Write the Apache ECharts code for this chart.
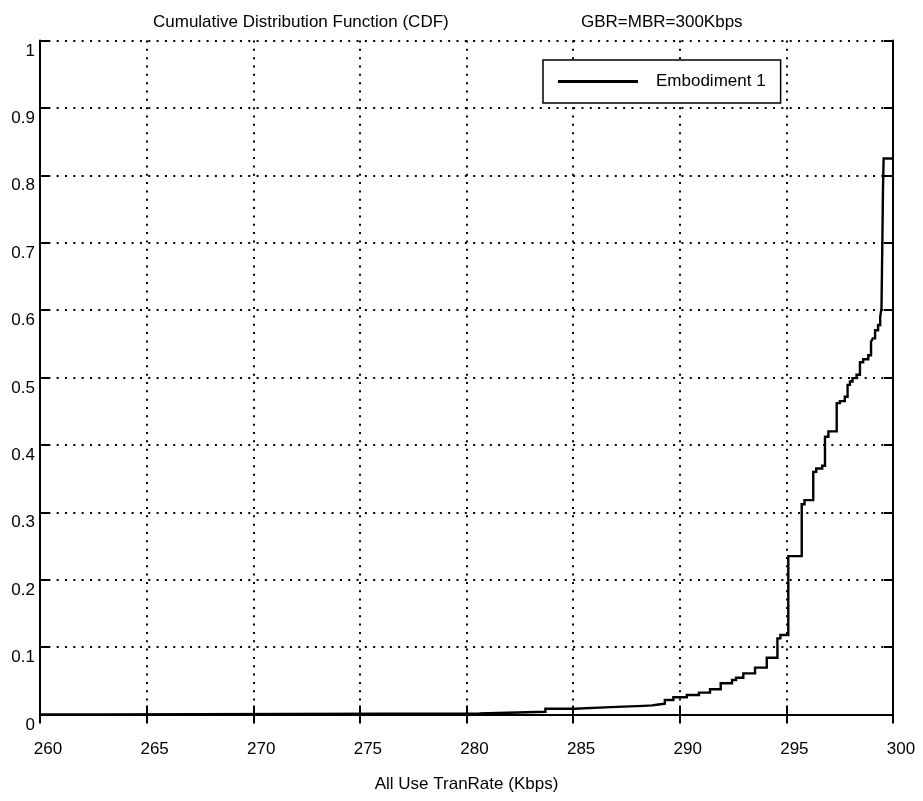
<!DOCTYPE html>
<html>
<head>
<meta charset="utf-8">
<script src="https://cdn.jsdelivr.net/npm/echarts@6/dist/echarts.min.js"></script>
<style>html,body{margin:0;padding:0;background:#fff;}#c{width:923px;height:801px;}</style>
</head>
<body>
<div id="c"></div>
<script>
// Breakpoints of the empirical CDF: rate (Kbps) where the CDF jumps, and the CDF value after the jump
var rateKbps = [262.95, 280.6, 283.7, 285.05, 286.76, 288.3, 288.7, 289.0, 289.3, 289.7, 290.33, 290.9, 291.42, 291.92,
  292.45, 292.64, 292.98, 293.53, 294.08, 294.58, 294.72, 295.09, 295.72, 295.85, 296.26, 296.4, 296.68, 296.81,
  296.97, 297.36, 297.51, 297.74, 297.87, 297.98, 298.1, 298.29, 298.45, 298.6, 298.84, 298.97, 299.05, 299.16,
  299.3, 299.4, 299.46, 299.5, 299.53, 299.56, 300];
var cdfValue = [0.0015, 0.0040, 0.0085, 0.011, 0.0128, 0.0135, 0.0148, 0.016, 0.0215, 0.0255, 0.029, 0.0324, 0.0374, 0.0463,
  0.0512, 0.0546, 0.061, 0.0695, 0.0843, 0.113, 0.118, 0.235, 0.312, 0.318, 0.360, 0.365, 0.369, 0.412,
  0.420, 0.462, 0.465, 0.4715, 0.489, 0.494, 0.499, 0.504, 0.5226, 0.527, 0.533, 0.553, 0.558, 0.570,
  0.578, 0.590, 0.603, 0.70, 0.78, 0.825, 0.825];
var xTicks = [260, 265, 270, 275, 280, 285, 290, 295, 300];
var yTicks = [0, 0.1, 0.2, 0.3, 0.4, 0.5, 0.6, 0.7, 0.8, 0.9, 1];
var seriesName = 'Embodiment 1';
var titleLeft = 'Cumulative Distribution Function (CDF)';
var titleRight = 'GBR=MBR=300Kbps';
var xName = 'All Use TranRate (Kbps)';

// staircase points from the breakpoints
var pts = [[260, 0]];
for (var i = 0; i < rateKbps.length; i++) {
  var prev = i === 0 ? 0 : cdfValue[i - 1];
  pts.push([rateKbps[i], prev]);
  pts.push([rateKbps[i], cdfValue[i]]);
}

var FONT = 'Liberation Sans, Arial, sans-serif';
var dotted = { color: '#000', width: 2, type: [2, 6.33] };
var chart = echarts.init(document.getElementById('c'), null, { renderer: 'canvas' });
chart.setOption({
  animation: false,
  backgroundColor: '#fff',
  textStyle: { fontFamily: FONT, color: '#000' },
  title: [
    { text: titleLeft, left: 153, top: 14, padding: 0, textStyle: { fontFamily: FONT, fontSize: 17, fontWeight: 'normal', color: '#000' } },
    { text: titleRight, left: 581, top: 14, padding: 0, textStyle: { fontFamily: FONT, fontSize: 17, fontWeight: 'normal', color: '#000' } }
  ],
  legend: {
    data: [seriesName],
    left: 543, top: 60,
    orient: 'horizontal',
    padding: [13, 15, 13, 15],
    borderColor: '#000', borderWidth: 1.5,
    backgroundColor: '#fff',
    icon: 'rect', itemWidth: 80, itemHeight: 3,
    textStyle: { fontFamily: FONT, fontSize: 17, color: '#000', padding: [0, 0, 0, 13] },
    selectedMode: false
  },
  grid: { left: 40, right: 30, top: 40.5, bottom: 86.5, containLabel: false },
  xAxis: [
    {
      type: 'value', min: xTicks[0], max: xTicks[xTicks.length - 1], interval: 5,
      position: 'bottom',
      name: xName, nameLocation: 'middle', nameGap: 61,
      nameTextStyle: { fontFamily: FONT, fontSize: 17, color: '#000' },
      axisLine: { show: true, lineStyle: { color: '#000', width: 2 } },
      axisTick: { show: true, inside: true, length: 9, lineStyle: { color: '#000', width: 2 } },
      axisLabel: { show: true, margin: 26, fontFamily: FONT, fontSize: 17, color: '#000', padding: [0, 0, 0, 16] },
      splitLine: { show: true, lineStyle: dotted }
    },
    {
      type: 'value', min: xTicks[0], max: xTicks[xTicks.length - 1], interval: 5,
      position: 'top',
      axisLine: { show: true, lineStyle: { color: '#000', width: 2 } },
      axisTick: { show: true, inside: true, length: 9, lineStyle: { color: '#000', width: 2 } },
      axisLabel: { show: false },
      splitLine: { show: false }
    }
  ],
  yAxis: [
    {
      type: 'value', min: yTicks[0], max: yTicks[yTicks.length - 1], interval: 0.1,
      position: 'left',
      axisLine: { show: true, lineStyle: { color: '#000', width: 2 } },
      axisTick: { show: true, inside: true, length: 9, lineStyle: { color: '#000', width: 2 } },
      axisLabel: { show: true, margin: 5, fontFamily: FONT, fontSize: 17, color: '#000',
        verticalAlign: 'top', lineHeight: 21,
        formatter: function (v) { return String(Math.round(v * 10) / 10); } },
      splitLine: { show: true, lineStyle: dotted }
    },
    {
      type: 'value', min: yTicks[0], max: yTicks[yTicks.length - 1], interval: 0.1,
      position: 'right',
      axisLine: { show: true, lineStyle: { color: '#000', width: 2 } },
      axisTick: { show: true, inside: true, length: 9, lineStyle: { color: '#000', width: 2 } },
      axisLabel: { show: false },
      splitLine: { show: false }
    }
  ],
  series: [{
    name: seriesName,
    type: 'line',
    xAxisIndex: 0, yAxisIndex: 0,
    data: pts,
    showSymbol: false, symbol: 'none',
    lineStyle: { color: '#000', width: 2.4, join: 'miter' },
    itemStyle: { color: '#000' },
    z: 5
  }]
});
</script>
</body>
</html>
